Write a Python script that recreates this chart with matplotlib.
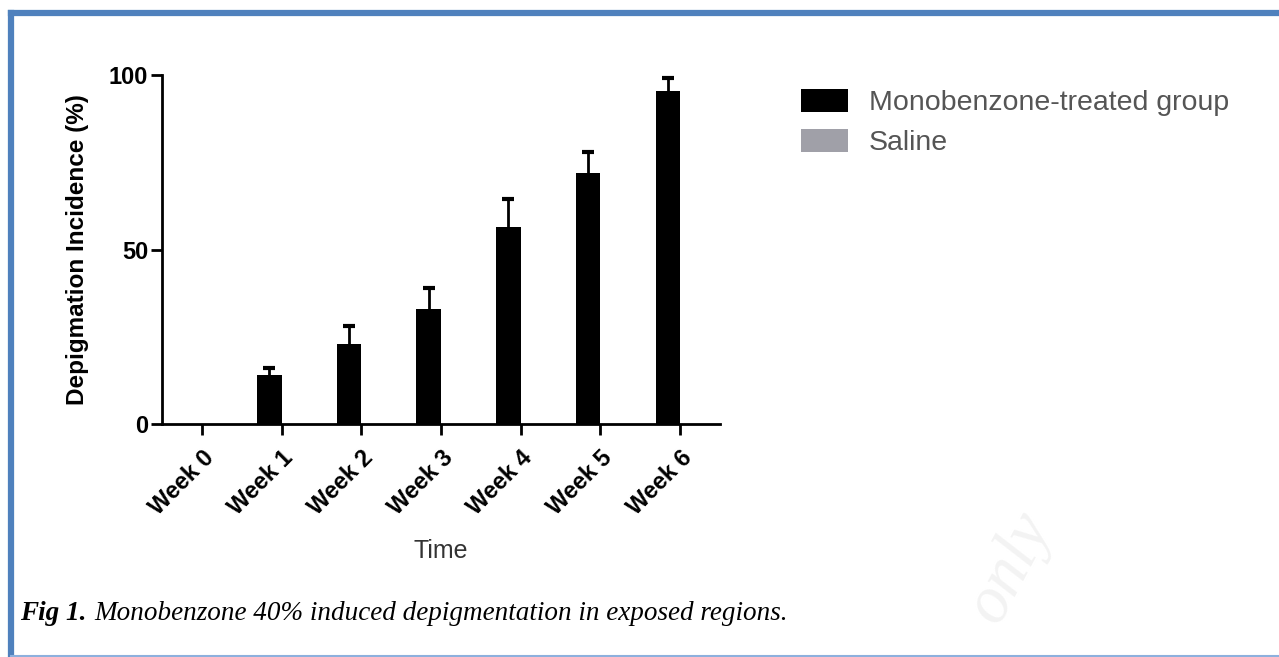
import numpy as np
import matplotlib.pyplot as plt
from matplotlib.lines import Line2D

# data
weeks = ['Week 0', 'Week 1', 'Week 2', 'Week 3', 'Week 4', 'Week 5', 'Week 6']
mono = [0, 14, 23, 33, 56.5, 72, 95.5]
mono_err = [0, 2, 5, 6, 8, 6, 3.7]
saline = [0, 0, 0, 0, 0, 0, 0]

plt.rcParams['font.family'] = ['Liberation Sans', 'DejaVu Sans']

fig = plt.figure(figsize=(12.79, 6.57), dpi=100)
ax = fig.add_axes([0.1267, 0.3546, 0.4363, 0.5312])

x = np.arange(len(weeks))
w = 0.31
ax.bar(x - w / 2, mono, w, color='black', label='Monobenzone-treated group')
ax.bar(x + w / 2, saline, w, color='#a0a0a8', label='Saline')

# upper-only error bars (GraphPad style)
top = np.array(mono) + np.array(mono_err)
has_err = np.array(mono_err) > 0
ax.vlines((x - w / 2)[has_err], np.array(mono)[has_err], top[has_err], color='black', lw=2)
ax.hlines(top[has_err], (x - w / 2 - 0.075)[has_err], (x - w / 2 + 0.075)[has_err],
          color='black', lw=3)

ax.set_xlim(-0.5, 6.5)
ax.set_ylim(0, 100)
ax.set_yticks([0, 50, 100])
ax.set_xticks(x)
ax.set_xticklabels(weeks, rotation=45, ha='right', rotation_mode='anchor',
                   fontsize=17, fontweight='bold')
for lbl in ax.get_yticklabels():
    lbl.set_fontsize(17)
    lbl.set_fontweight('bold')
ax.tick_params(axis='both', length=8, width=2, direction='out')
ax.tick_params(axis='x', pad=8)
ax.tick_params(axis='y', pad=2)
for s in ['top', 'right']:
    ax.spines[s].set_visible(False)
for s in ['left', 'bottom']:
    ax.spines[s].set_linewidth(2)

ax.set_ylabel('Depigmation Incidence (%)', fontsize=17.5, fontweight='bold', labelpad=14)
ax.set_xlabel('Time', fontsize=18, labelpad=14, color='#333333')

leg = fig.legend(loc='upper left', bbox_to_anchor=(0.617, 0.882), frameon=False,
                 fontsize=20.5, handlelength=1.65, handleheight=0.85, labelspacing=0.45,
                 handletextpad=0.75, borderaxespad=0)
for t in leg.get_texts():
    t.set_color('#555555')

# caption
t1 = fig.text(0.016, 0.056, 'Fig 1.', family='Liberation Serif', style='italic',
              fontweight='bold', fontsize=19.5, va='baseline')
fig.canvas.draw()
bb = t1.get_window_extent()
fig.text(bb.x1 / fig.bbox.width + 0.006, 0.056,
         'Monobenzone 40% induced depigmentation in exposed regions.',
         family='Liberation Serif', style='italic', fontsize=19.5, va='baseline')

# faint watermark
fig.text(0.79, 0.135, 'only', fontsize=48, rotation=62, color='#f3f3f3',
         family='Liberation Serif', style='italic', ha='center', va='center')

# blue frame: thick top and left, thin light bottom
fig.add_artist(Line2D([0.0085, 1.0], [0.9805, 0.9805], transform=fig.transFigure,
                      color='#4f81bd', lw=4.5))
fig.add_artist(Line2D([0.0085, 0.0085], [0.0015, 0.9805], transform=fig.transFigure,
                      color='#4f81bd', lw=4.5))
fig.add_artist(Line2D([0.0085, 1.0], [0.0015, 0.0015], transform=fig.transFigure,
                      color='#8db0dd', lw=1.5))

fig.savefig('out.png', dpi=100)
